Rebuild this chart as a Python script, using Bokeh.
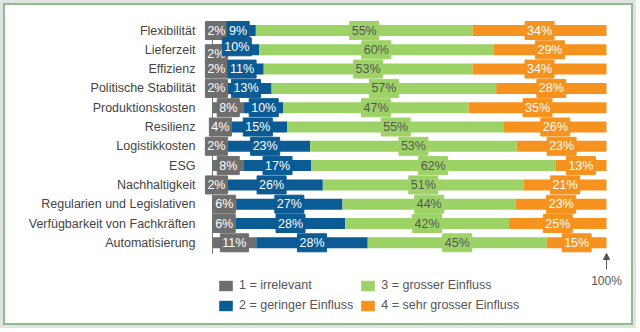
from bokeh.plotting import figure
from bokeh.models import ColumnDataSource, Range1d, FixedTicker, Legend, LegendItem, Arrow, NormalHead, Label
from bokeh.core.properties import value
from bokeh.embed import file_html
from bokeh.resources import INLINE

categories = ["Flexibilität", "Lieferzeit", "Effizienz", "Politische Stabilität",
              "Produktionskosten", "Resilienz", "Logistikkosten", "ESG",
              "Nachhaltigkeit", "Regularien und Legislativen",
              "Verfügbarkeit von Fachkräften", "Automatisierung"]
irrelevant = [2, 2, 2, 2, 8, 4, 2, 8, 2, 6, 6, 11]
gering = [9, 10, 11, 13, 10, 15, 23, 17, 26, 27, 28, 28]
gross = [55, 60, 53, 57, 47, 55, 53, 62, 51, 44, 42, 45]
sehr_gross = [34, 29, 34, 28, 35, 26, 23, 13, 21, 23, 25, 15]
series_names = ["1 = irrelevant", "2 = geringer Einfluss",
                "3 = grosser Einfluss", "4 = sehr grosser Einfluss"]

colors = ["#6e6e6e", "#0b5b95", "#9dd366", "#f6921e"]
label_colors = ["#ffffff", "#ffffff", "#555555", "#ffffff"]
FONT = "Liberation Sans"

series = [irrelevant, gering, gross, sehr_gross]
n = len(categories)
ys = [-i for i in range(n)]

W, H = 630, 322
FRAME_LEFT = 195          # frame starts a little left of the 0% line
ZERO_PX = 207             # 0% line position in figure pixels
PX_PER_PCT = 3.94
ROW_PX = 19.3
ROW0 = 25
x_start = -(ZERO_PX - FRAME_LEFT) / PX_PER_PCT
x_end = (W - ZERO_PX) / PX_PER_PCT
y_top = ROW0 / ROW_PX
y_bottom = -(H - ROW0) / ROW_PX

p = figure(width=W, height=H, x_range=Range1d(x_start, x_end), y_range=Range1d(y_bottom, y_top),
           output_backend="svg", toolbar_location=None, x_axis_type=None,
           min_border_left=FRAME_LEFT, min_border_right=0, min_border_top=0, min_border_bottom=0,
           outline_line_color=None, background_fill_color="white", border_fill_color="white")
p.grid.visible = False
p.styles = {"border": "2px solid #8dbd8d", "margin": "3px", "box-shadow": "0 0 0 3px #e2e2e2"}

yax = p.yaxis[0]
yax.ticker = FixedTicker(ticks=ys)
yax.major_label_overrides = {y: c for y, c in zip(ys, categories)}
yax.axis_line_color = None
yax.major_tick_line_color = None
yax.minor_tick_line_color = None
yax.major_tick_out = 0
yax.major_tick_in = 0
yax.major_label_standoff = 5
yax.major_label_text_font = FONT
yax.major_label_text_font_size = "12.5px"
yax.major_label_text_color = "#444444"

# vertical base line
p.segment(x0=[0], y0=[0.47], x1=[0], y1=[-(n - 1) - 0.57], line_color="#777777", line_width=1)

totals = [sum(s[i] for s in series) for i in range(n)]
left = [0.0] * n
renderers = []
label_sources = []
for k, s in enumerate(series):
    norm = [v / t * 100 for v, t in zip(s, totals)]
    right = [l + v for l, v in zip(left, norm)]
    src = ColumnDataSource(dict(y=ys, left=left, right=right))
    r = p.hbar(y="y", left="left", right="right", height=0.57, source=src,
               fill_color=colors[k], line_color=None)
    renderers.append(r)
    xc = [(l + rr) / 2 for l, rr in zip(left, right)]
    dy = [0] * n
    dx = [0] * n
    if k == 0:
        dy[1] = 4
    if k == 1:
        dy[1] = -3
        dx[1] = -3
    label_sources.append((k, ColumnDataSource(dict(x=xc, y=ys, t=[f"{v}%" for v in s], dy=dy, dx=dx))))
    left = right

for k, src in label_sources:
    p.text(x="x", y="y", text="t", source=src, y_offset="dy", x_offset="dx",
           text_align="center", text_baseline="middle",
           text_font=value(FONT), text_font_size=value("12.5px"),
           text_color=label_colors[k],
           background_fill_color=colors[k], border_line_color=colors[k],
           padding=2)

legend = Legend(items=[LegendItem(label=nm, renderers=[r]) for nm, r in zip(series_names, renderers)],
                nrows=2, location=(17, 15), orientation="vertical",
                glyph_width=17, glyph_height=13, label_height=13, label_width=114,
                spacing=6, label_standoff=5, padding=0, margin=0,
                border_line_color=None, background_fill_alpha=0,
                label_text_font=FONT, label_text_font_size="12.5px", label_text_color="#555555")
p.add_layout(legend)

arrow_base = -(n - 1)
p.add_layout(Arrow(x_start=100, y_start=arrow_base - 1.38, x_end=100, y_end=arrow_base - 0.55,
                   end=NormalHead(size=6, fill_color="#555555", line_color="#555555"),
                   line_color="#555555", line_width=1))
p.add_layout(Label(x=100, y=arrow_base - 2.0, text="100%", text_align="center",
                   text_baseline="middle", text_font=FONT, text_font_size="12px",
                   text_color="#555555"))

open("out.html", "w").write(file_html(p, INLINE))
